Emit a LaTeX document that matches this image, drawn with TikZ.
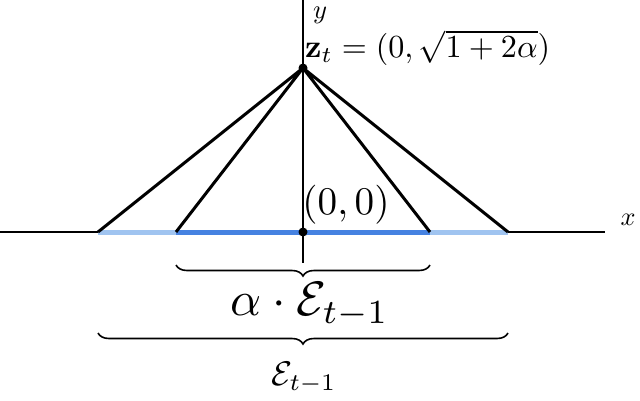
\documentclass[tikz,border=0pt]{standalone}
\usepackage{amsmath,amssymb}
\usetikzlibrary{decorations.pathreplacing}
\definecolor{lb}{RGB}{160,196,240}
\definecolor{db}{RGB}{70,130,225}
\begin{document}
\begin{tikzpicture}[x=1pt,y=-1pt,
  edge/.style={black,line width=3pt},
  lbl/.style={inner sep=0pt},
  brace/.style={decorate,decoration={brace,amplitude=11pt,mirror},line width=1.6pt}]
\useasboundingbox (0,0) rectangle (640,400);
\coordinate (o) at (303,232);
\coordinate (z) at (303,68);
\coordinate (a1) at (98,232);
\coordinate (a2) at (176,232);
\coordinate (a3) at (430,232);
\coordinate (a4) at (508,232);
\draw[line width=1.5pt] (0,232) -- (605,232);
\draw[line width=1.5pt] (303,0) -- (303,263);
\node[lbl] (xl) at (628,220) {\resizebox{15pt}{!}{$x$}};
\node[lbl] (yl) at (320,15) {\resizebox{14pt}{!}{$y$}};
\draw[lb,line width=5pt] (a1) -- (a4);
\draw[db,line width=5pt] (a2) -- (a3);
\draw[edge] (z) -- (a1) (z) -- (a2) (z) -- (a3) (z) -- (a4);
\fill (z) circle (4.5pt);
\fill (o) circle (4.5pt);
\node[lbl,anchor=west] (zl) at (305,48) {\resizebox{245pt}{!}{$\mathbf{z}_t=(0,\sqrt{1+2\alpha})$}};
\node[lbl] (ol) at (346,205) {\resizebox{87pt}{!}{$(0,0)$}};
\draw[brace] (176,265) -- (430,265);
\draw[brace] (98,333) -- (508,333);
\node[lbl] (l1) at (310,305) {\resizebox{158pt}{!}{$\alpha\cdot\mathcal{E}_{t-1}$}};
\node[lbl] (l2) at (304,378) {\resizebox{65pt}{!}{$\mathcal{E}_{t-1}$}};
\end{tikzpicture}
\end{document}
